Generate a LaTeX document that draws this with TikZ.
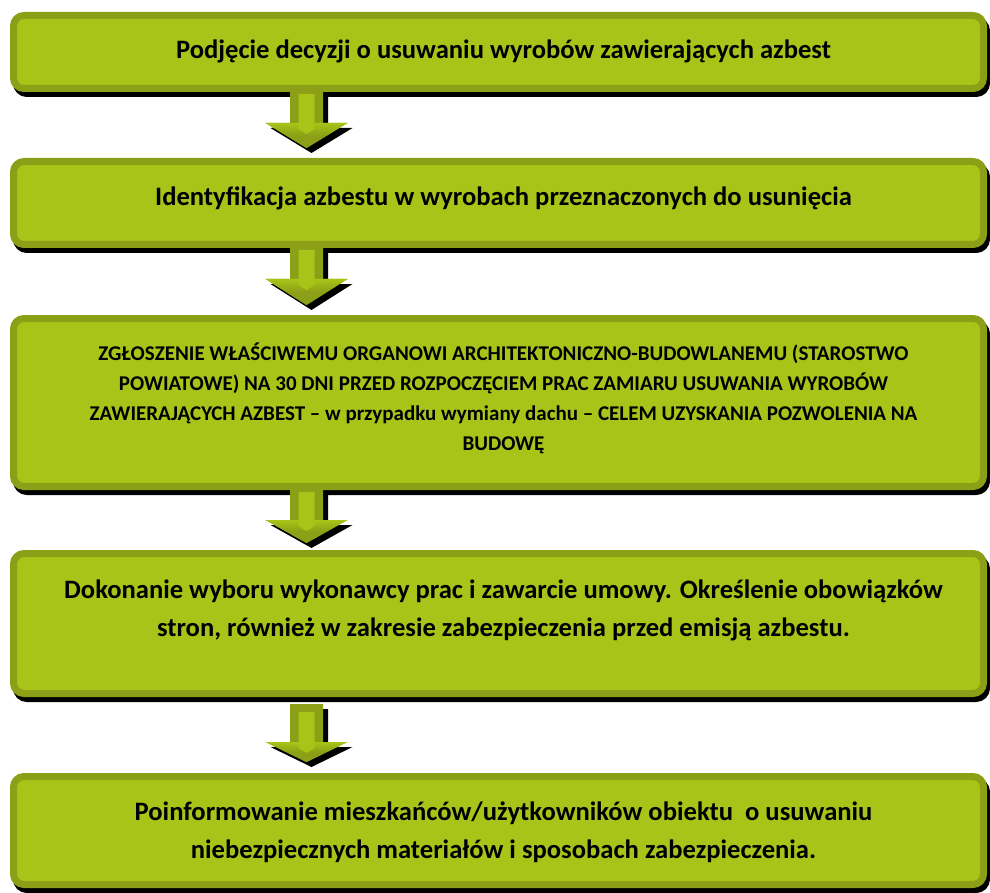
\documentclass[tikz,border=0pt]{standalone}
\usepackage{fontspec}
\setmainfont{Carlito}
\usetikzlibrary{calc}
\definecolor{lightg}{RGB}{169,196,24}
\definecolor{oliveg}{RGB}{139,160,22}
\newcommand\flowarrow[6]{% from, to, shaft offset, stripe offset, head offset, tip offset
  \coordinate (s0) at ($(ax |- #1.south)+(0,#3)$);
  \coordinate (h0) at ($(ax |- #2.north)+(0,-#5)$);
  \coordinate (p0) at ($(ax |- #2.north)+(0,-#6)$);
  \fill[black, transform canvas={shift={(5pt,-5pt)}}]
    ($(s0)+(-16.5,0)$) -- ($(s0)+(16.5,0)$) -- ($(h0)+(16.5,0)$) -- ($(h0)+(41,0)$)
    -- (p0) -- ($(h0)+(-41,0)$) -- ($(h0)+(-16.5,0)$) -- cycle;
  \fill[oliveg]
    ($(s0)+(-16.5,0)$) -- ($(s0)+(16.5,0)$) -- ($(h0)+(16.5,0)$) -- ($(h0)+(41,0)$)
    -- (p0) -- ($(h0)+(-41,0)$) -- ($(h0)+(-16.5,0)$) -- cycle;
  \shade[top color=lightg, bottom color=oliveg, middle color=oliveg]
    ($(h0)+(-41,0)$) -- ($(h0)+(41,0)$) -- (p0) -- cycle;
  \fill[lightg]
    ($(s0)+(-8,#4)$) -- ($(s0)+(8,#4)$) -- ($(h0)+(8,6)$) -- ($(h0)+(0,11)$)
    -- ($(h0)+(-8,6)$) -- cycle;
}
\begin{document}
\begin{tikzpicture}[x=1pt,y=-1pt,
  flowbox/.style={rectangle, rounded corners=10.5pt, draw=oliveg, fill=lightg,
    line width=7pt, minimum width=970pt, inner sep=0pt,
    preaction={draw=black, fill=black, line width=7pt,
      transform canvas={shift={(3pt,-5pt)}}}},
  flowtext/.style={font=\bfseries\fontsize{26.6}{37.3}\selectfont, align=center,
    inner sep=0pt, anchor=base},
  smalltext/.style={font=\bfseries\fontsize{21}{29.7}\selectfont, align=center,
    inner sep=0pt, anchor=base},
]
\useasboundingbox (0,0) rectangle (990,893);
\coordinate (ax) at (306.5,0);

\node[flowbox, minimum height=73pt]  (b1) at (498.5,52) {};
\node[flowbox, minimum height=83pt]  (b2) at (498.5,203) {};
\node[flowbox, minimum height=168pt] (b3) at (498.5,402.5) {};
\node[flowbox, minimum height=140pt] (b4) at (498.5,623.5) {};
\node[flowbox, minimum height=108pt] (b5) at (498.5,830.5) {};

\flowarrow{b1}{b2}{0}{2}{35}{10}
\flowarrow{b2}{b3}{0}{2}{36}{10}
\flowarrow{b3}{b4}{0}{2}{30}{7}
\flowarrow{b4}{b5}{7}{8}{31}{11}

\node[flowtext] (t1) at (503.5,59) {Podjęcie decyzji o usuwaniu wyrobów zawierających azbest};
\node[flowtext] (t2) at (503.5,206) {Identyfikacja azbestu w wyrobach przeznaczonych do usunięcia};
\node[smalltext] (t3) at (503.5,450) {ZGŁOSZENIE WŁAŚCIWEMU ORGANOWI ARCHITEKTONICZNO-BUDOWLANEMU (STAROSTWO\\
POWIATOWE) NA 30 DNI PRZED ROZPOCZĘCIEM PRAC ZAMIARU USUWANIA WYROBÓW\\
ZAWIERAJĄCYCH AZBEST – w przypadku wymiany dachu – CELEM UZYSKANIA POZWOLENIA NA\\
BUDOWĘ};
\node[flowtext] (t4) at (503.5,636) {Dokonanie wyboru wykonawcy prac i zawarcie umowy. Określenie obowiązków\\
stron, również w zakresie zabezpieczenia przed emisją azbestu.};
\node[flowtext] (t5) at (503.5,858) {Poinformowanie mieszkańców/użytkowników obiektu\ \ o usuwaniu\\
niebezpiecznych materiałów i sposobach zabezpieczenia.};
\end{tikzpicture}
\end{document}
